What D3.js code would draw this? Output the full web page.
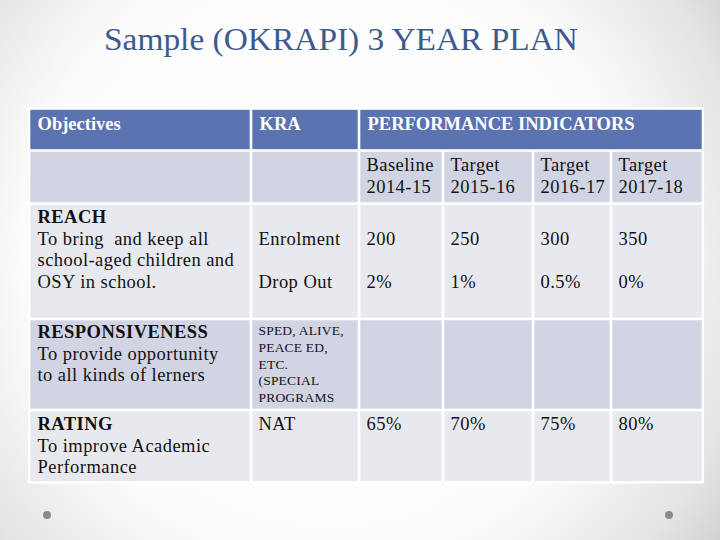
<!DOCTYPE html>
<html><head><meta charset="utf-8">
<script src="https://cdn.jsdelivr.net/npm/d3@7"></script>
<style>html,body{margin:0;padding:0;background:#fff}svg{display:block}text{white-space:pre}</style>
</head><body>
<div id="chart"></div>
<script>
// ---- data ----
const title = "Sample (OKRAPI) 3 YEAR PLAN";
const headers = ["Objectives", "KRA", "PERFORMANCE INDICATORS"];
const periodLabels = ["Baseline", "Target", "Target", "Target"];
const periodYears = ["2014-15", "2015-16", "2016-17", "2017-18"];
const objectiveNames = ["REACH", "RESPONSIVENESS", "RATING"];
const objectiveTexts = [
  ["To bring  and keep all", "school-aged children and", "OSY in school."],
  ["To provide opportunity", "to all kinds of lerners"],
  ["To improve Academic", "Performance"]
];
const kraReach = ["Enrolment", "Drop Out"];
const kraResponsiveness = ["SPED, ALIVE,", "PEACE ED,", "ETC.", "(SPECIAL", "PROGRAMS"];
const kraRating = ["NAT"];
const enrolment = [200, 250, 300, 350];
const dropOut = [2, 1, 0.5, 0];
const nat = [65, 70, 75, 80];

// ---- layout ----
const W = 720, H = 540;
const colEdges = [29, 251, 359, 443, 533, 611, 703];
const rowEdges = [108.5, 150.5, 203.5, 319, 410, 482.5];
const gap = 2.6;
const pad = 7.5;
const serif = "Liberation Serif";
const LS = 0.45;

const svg = d3.select("#chart").append("svg").attr("width", W).attr("height", H);
const defs = svg.append("defs");
const rg = defs.append("radialGradient").attr("id", "bg")
  .attr("gradientUnits", "userSpaceOnUse")
  .attr("cx", 330).attr("cy", 260).attr("r", 520)
  .attr("fx", 330).attr("fy", 240);
rg.append("stop").attr("offset", "0%").attr("stop-color", "#ffffff");
rg.append("stop").attr("offset", "58%").attr("stop-color", "#fcfcfc");
rg.append("stop").attr("offset", "82%").attr("stop-color", "#e4e4e4");
rg.append("stop").attr("offset", "100%").attr("stop-color", "#c6c6c6");
svg.append("rect").attr("width", W).attr("height", H).attr("fill", "url(#bg)");

// title
svg.append("text").attr("x", 104).attr("y", 50)
  .attr("font-family", serif).attr("font-size", 31)
  .attr("fill", "#3d5a8e").attr("textLength", 474).attr("lengthAdjust", "spacingAndGlyphs")
  .text(title);

// decorative dots
svg.selectAll("circle.dot").data([47, 669]).join("circle")
  .attr("cx", d => d).attr("cy", 515).attr("r", 4).attr("fill", "#8a8a8a");

// scales
const colX = d3.scaleOrdinal().domain(d3.range(colEdges.length)).range(colEdges);
const rowY = d3.scaleOrdinal().domain(d3.range(rowEdges.length)).range(rowEdges);

// table background (white border)
svg.append("rect")
  .attr("x", colX(0) - 1).attr("y", rowY(0) - 1)
  .attr("width", colX(6) - colX(0) + 2).attr("height", rowY(5) - rowY(0) + 2)
  .attr("fill", "#ffffff");

const rowFill = ["#5b73b0", "#d1d5e3", "#e8e9ef", "#d1d5e3", "#e8e9ef"];
const cells = [];
[[0, 1], [1, 1], [2, 4]].forEach(([c, s]) => cells.push({ r: 0, c, s }));
for (let r = 1; r < 5; r++) for (let c = 0; c < 6; c++) cells.push({ r, c, s: 1 });

svg.selectAll("rect.cell").data(cells).join("rect").attr("class", "cell")
  .attr("x", d => colX(d.c) + gap / 2)
  .attr("y", d => rowY(d.r) + gap / 2)
  .attr("width", d => colX(d.c + d.s) - colX(d.c) - gap)
  .attr("height", d => rowY(d.r + 1) - rowY(d.r) - gap)
  .attr("fill", d => rowFill[d.r]);

function lines(g, x, y0, arr, opts) {
  const t = g.append("text").attr("x", x).attr("y", y0)
    .attr("font-family", serif).attr("font-size", opts.size).attr("fill", opts.fill || "#111")
    .attr("letter-spacing", opts.ls == null ? LS : opts.ls);
  arr.forEach((s, i) => t.append("tspan").attr("x", x).attr("y", y0 + i * opts.lh)
    .attr("font-weight", (opts.boldFirst && i === 0) ? "bold" : null).text(s));
  return t;
}
const g = svg.append("g");
const body = { size: 18.5, lh: 21.6 };

// header text
svg.selectAll("text.hdr").data(headers).join("text").attr("class", "hdr")
  .attr("x", (d, i) => colX([0, 1, 2][i]) + pad + 1)
  .attr("y", 130)
  .attr("font-family", serif).attr("font-size", 18.5).attr("font-weight", "bold")
  .attr("fill", "#ffffff").text(d => d);

// period sub-headers
periodLabels.forEach((p, i) => {
  lines(g, colX(2 + i) + pad, 171, [p, periodYears[i]], body);
});

// objectives
const objY = [223, 338, 430];
objectiveNames.forEach((n, i) => {
  lines(g, colX(0) + pad + 1, objY[i], [n].concat(objectiveTexts[i]), Object.assign({ boldFirst: true }, body));
});

// KRA
lines(g, colX(1) + pad, 245, kraReach, { size: 18.5, lh: 43 });
lines(g, colX(1) + pad, 335, kraResponsiveness, { size: 13.5, lh: 16.8, ls: 0.2 });
lines(g, colX(1) + pad, 430, kraRating, body);

// values
const fmtPct = d => d + "%";
[[enrolment, d => String(d), 245], [dropOut, fmtPct, 288], [nat, fmtPct, 430]].forEach(([arr, f, y]) => {
  g.selectAll(null).data(arr).join("text")
    .attr("x", (d, i) => colX(2 + i) + pad)
    .attr("y", y)
    .attr("font-family", serif).attr("font-size", 18.5).attr("fill", "#111")
    .attr("letter-spacing", LS)
    .text(f);
});
</script>
</body></html>
